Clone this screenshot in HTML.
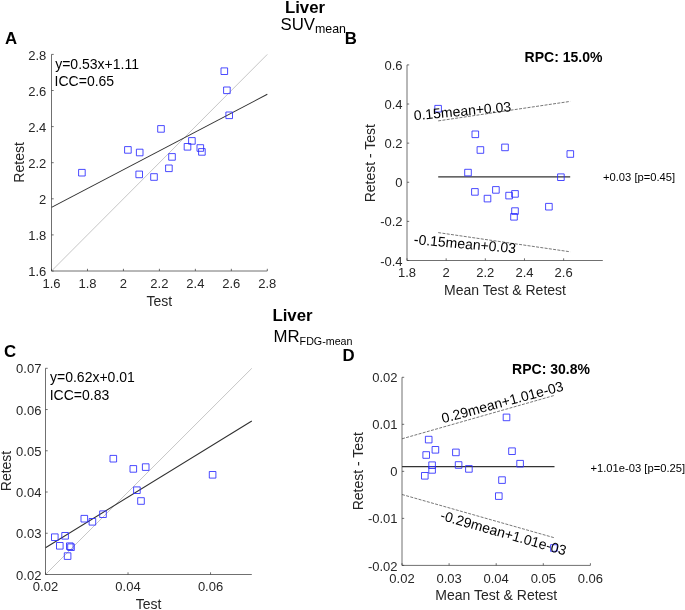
<!DOCTYPE html>
<html><head><meta charset="utf-8"><style>
html,body{margin:0;padding:0;background:#fff;}
body{width:685px;height:610px;overflow:hidden;}
#w{width:685px;height:610px;}
svg{display:block;will-change:transform;font-family:"Liberation Sans",sans-serif;}
</style></head><body><div id="w">
<svg width="685" height="610" viewBox="0 0 685 610">
<rect width="685" height="610" fill="#fff"/>
<line x1="51.5" y1="271.0" x2="267.3" y2="54.4" stroke="#b8b8b8" stroke-width="0.8"/>
<line x1="51.5" y1="207.4" x2="267.3" y2="94.3" stroke="#303030" stroke-width="1.05"/>
<path d="M51.5 54.4V271.0H267.3" fill="none" stroke="#404040" stroke-width="0.75"/>
<path d="M51.50 271.0v-2.2" stroke="#404040" stroke-width="0.75"/>
<text x="51.5" y="288.0" text-anchor="middle" font-size="13" fill="#262626">1.6</text>
<path d="M87.47 271.0v-2.2" stroke="#404040" stroke-width="0.75"/>
<text x="87.46666666666667" y="288.0" text-anchor="middle" font-size="13" fill="#262626">1.8</text>
<path d="M123.43 271.0v-2.2" stroke="#404040" stroke-width="0.75"/>
<text x="123.43333333333332" y="288.0" text-anchor="middle" font-size="13" fill="#262626">2</text>
<path d="M159.40 271.0v-2.2" stroke="#404040" stroke-width="0.75"/>
<text x="159.40000000000003" y="288.0" text-anchor="middle" font-size="13" fill="#262626">2.2</text>
<path d="M195.37 271.0v-2.2" stroke="#404040" stroke-width="0.75"/>
<text x="195.36666666666665" y="288.0" text-anchor="middle" font-size="13" fill="#262626">2.4</text>
<path d="M231.33 271.0v-2.2" stroke="#404040" stroke-width="0.75"/>
<text x="231.33333333333334" y="288.0" text-anchor="middle" font-size="13" fill="#262626">2.6</text>
<path d="M267.30 271.0v-2.2" stroke="#404040" stroke-width="0.75"/>
<text x="267.29999999999995" y="288.0" text-anchor="middle" font-size="13" fill="#262626">2.8</text>
<path d="M51.5 271.00h2.2" stroke="#404040" stroke-width="0.75"/>
<text x="46.3" y="276.10" text-anchor="end" font-size="13" fill="#262626">1.6</text>
<path d="M51.5 234.90h2.2" stroke="#404040" stroke-width="0.75"/>
<text x="46.3" y="240.00" text-anchor="end" font-size="13" fill="#262626">1.8</text>
<path d="M51.5 198.80h2.2" stroke="#404040" stroke-width="0.75"/>
<text x="46.3" y="203.90" text-anchor="end" font-size="13" fill="#262626">2</text>
<path d="M51.5 162.70h2.2" stroke="#404040" stroke-width="0.75"/>
<text x="46.3" y="167.80" text-anchor="end" font-size="13" fill="#262626">2.2</text>
<path d="M51.5 126.60h2.2" stroke="#404040" stroke-width="0.75"/>
<text x="46.3" y="131.70" text-anchor="end" font-size="13" fill="#262626">2.4</text>
<path d="M51.5 90.50h2.2" stroke="#404040" stroke-width="0.75"/>
<text x="46.3" y="95.60" text-anchor="end" font-size="13" fill="#262626">2.6</text>
<path d="M51.5 54.40h2.2" stroke="#404040" stroke-width="0.75"/>
<text x="46.3" y="59.50" text-anchor="end" font-size="13" fill="#262626">2.8</text>
<path d="M78.60 169.40h6.6v6.6h-6.6zM124.60 146.60h6.6v6.6h-6.6zM136.40 149.20h6.6v6.6h-6.6zM157.70 125.60h6.6v6.6h-6.6zM135.90 171.10h6.6v6.6h-6.6zM150.70 173.70h6.6v6.6h-6.6zM165.60 165.00h6.6v6.6h-6.6zM168.70 153.60h6.6v6.6h-6.6zM221.00 67.90h6.6v6.6h-6.6zM223.60 87.00h6.6v6.6h-6.6zM225.90 112.00h6.6v6.6h-6.6zM188.60 137.60h6.6v6.6h-6.6zM184.20 143.50h6.6v6.6h-6.6zM197.00 144.70h6.6v6.6h-6.6zM198.60 148.60h6.6v6.6h-6.6z" fill="none" stroke="#2a2aff" stroke-width="0.85"/>
<text x="55.2" y="68.9" font-size="14" fill="#000" >y=0.53x+1.11</text>
<text x="54.6" y="86.4" font-size="14" fill="#000" >ICC=0.65</text>
<text x="159.4" y="305.8" font-size="14" text-anchor="middle" fill="#262626" >Test</text>
<text transform="translate(23.6 162.4) rotate(-90)" text-anchor="middle" font-size="14" fill="#262626">Retest</text>
<text x="5" y="44" font-size="16.8" font-weight="bold" fill="#000" >A</text>
<line x1="438.2" y1="120.9" x2="570.2" y2="101.4" stroke="#4a4a4a" stroke-width="0.75" stroke-dasharray="3 1.3"/>
<line x1="438.2" y1="232.6" x2="570.2" y2="251.8" stroke="#4a4a4a" stroke-width="0.75" stroke-dasharray="3 1.3"/>
<line x1="438.2" y1="176.8" x2="570.2" y2="176.8" stroke="#333" stroke-width="1.3"/>
<path d="M407.0 64.9V260.5H602.8" fill="none" stroke="#404040" stroke-width="0.75"/>
<path d="M407.00 260.5v-2.2" stroke="#404040" stroke-width="0.75"/>
<text x="407.0" y="277.2" text-anchor="middle" font-size="13" fill="#262626">1.8</text>
<path d="M446.16 260.5v-2.2" stroke="#404040" stroke-width="0.75"/>
<text x="446.15999999999997" y="277.2" text-anchor="middle" font-size="13" fill="#262626">2</text>
<path d="M485.32 260.5v-2.2" stroke="#404040" stroke-width="0.75"/>
<text x="485.32" y="277.2" text-anchor="middle" font-size="13" fill="#262626">2.2</text>
<path d="M524.48 260.5v-2.2" stroke="#404040" stroke-width="0.75"/>
<text x="524.4799999999999" y="277.2" text-anchor="middle" font-size="13" fill="#262626">2.4</text>
<path d="M563.64 260.5v-2.2" stroke="#404040" stroke-width="0.75"/>
<text x="563.64" y="277.2" text-anchor="middle" font-size="13" fill="#262626">2.6</text>
<path d="M407.0 260.50h2.2" stroke="#404040" stroke-width="0.75"/>
<text x="402.6" y="265.60" text-anchor="end" font-size="13" fill="#262626">-0.4</text>
<path d="M407.0 221.38h2.2" stroke="#404040" stroke-width="0.75"/>
<text x="402.6" y="226.48" text-anchor="end" font-size="13" fill="#262626">-0.2</text>
<path d="M407.0 182.26h2.2" stroke="#404040" stroke-width="0.75"/>
<text x="402.6" y="187.36" text-anchor="end" font-size="13" fill="#262626">0</text>
<path d="M407.0 143.14h2.2" stroke="#404040" stroke-width="0.75"/>
<text x="402.6" y="148.24" text-anchor="end" font-size="13" fill="#262626">0.2</text>
<path d="M407.0 104.02h2.2" stroke="#404040" stroke-width="0.75"/>
<text x="402.6" y="109.12" text-anchor="end" font-size="13" fill="#262626">0.4</text>
<path d="M407.0 64.90h2.2" stroke="#404040" stroke-width="0.75"/>
<text x="402.6" y="70.00" text-anchor="end" font-size="13" fill="#262626">0.6</text>
<path d="M434.80 105.40h6.6v6.6h-6.6zM472.00 131.00h6.6v6.6h-6.6zM477.10 146.70h6.6v6.6h-6.6zM501.70 144.10h6.6v6.6h-6.6zM464.70 169.30h6.6v6.6h-6.6zM471.60 188.60h6.6v6.6h-6.6zM484.20 195.30h6.6v6.6h-6.6zM492.60 186.60h6.6v6.6h-6.6zM505.80 192.30h6.6v6.6h-6.6zM511.70 190.60h6.6v6.6h-6.6zM511.70 207.80h6.6v6.6h-6.6zM510.70 213.50h6.6v6.6h-6.6zM545.60 203.40h6.6v6.6h-6.6zM567.00 150.70h6.6v6.6h-6.6zM557.60 173.90h6.6v6.6h-6.6z" fill="none" stroke="#2a2aff" stroke-width="0.85"/>
<text x="505" y="295.2" font-size="14" text-anchor="middle" fill="#262626" >Mean Test &amp; Retest</text>
<text transform="translate(375.1 163.2) rotate(-90)" text-anchor="middle" font-size="14" fill="#262626">Retest - Test</text>
<text transform="translate(414.2 120.3) rotate(-5.3)" font-size="14" fill="#000">0.15mean+0.03</text>
<text transform="translate(413.5 244.0) rotate(5.2)" font-size="14" fill="#000">-0.15mean+0.03</text>
<text x="603" y="181.4" font-size="11.2" fill="#000" >+0.03 [p=0.45]</text>
<text x="563.5" y="61.5" font-size="14" font-weight="bold" text-anchor="middle" fill="#000" >RPC: 15.0%</text>
<text x="344.8" y="44" font-size="16.8" font-weight="bold" fill="#000" >B</text>
<text x="305" y="12.8" font-size="16.8" font-weight="bold" text-anchor="middle" fill="#000" >Liver</text>
<text x="280.5" y="29.6" font-size="16.8" fill="#000">SUV<tspan font-size="12.4" dy="3.7">mean</tspan></text>
<text x="292.5" y="321.2" font-size="16.8" font-weight="bold" text-anchor="middle" fill="#000" >Liver</text>
<text x="273.5" y="341.8" font-size="16.8" fill="#000">MR<tspan font-size="10.7" dy="2.9">FDG-mean</tspan></text>
<line x1="45.5" y1="574.5" x2="251.8" y2="368.3" stroke="#b8b8b8" stroke-width="0.8"/>
<line x1="45.5" y1="547.8" x2="251.8" y2="421" stroke="#303030" stroke-width="1.05"/>
<path d="M45.5 368.3V574.5H251.8" fill="none" stroke="#404040" stroke-width="0.75"/>
<path d="M45.50 574.5v-2.2" stroke="#404040" stroke-width="0.75"/>
<text x="45.5" y="591.4" text-anchor="middle" font-size="13" fill="#262626">0.02</text>
<path d="M128.02 574.5v-2.2" stroke="#404040" stroke-width="0.75"/>
<text x="128.01999999999998" y="591.4" text-anchor="middle" font-size="13" fill="#262626">0.04</text>
<path d="M210.54 574.5v-2.2" stroke="#404040" stroke-width="0.75"/>
<text x="210.53999999999996" y="591.4" text-anchor="middle" font-size="13" fill="#262626">0.06</text>
<path d="M45.5 574.50h2.2" stroke="#404040" stroke-width="0.75"/>
<text x="41.4" y="579.60" text-anchor="end" font-size="13" fill="#262626">0.02</text>
<path d="M45.5 533.26h2.2" stroke="#404040" stroke-width="0.75"/>
<text x="41.4" y="538.36" text-anchor="end" font-size="13" fill="#262626">0.03</text>
<path d="M45.5 492.02h2.2" stroke="#404040" stroke-width="0.75"/>
<text x="41.4" y="497.12" text-anchor="end" font-size="13" fill="#262626">0.04</text>
<path d="M45.5 450.78h2.2" stroke="#404040" stroke-width="0.75"/>
<text x="41.4" y="455.88" text-anchor="end" font-size="13" fill="#262626">0.05</text>
<path d="M45.5 409.54h2.2" stroke="#404040" stroke-width="0.75"/>
<text x="41.4" y="414.64" text-anchor="end" font-size="13" fill="#262626">0.06</text>
<path d="M45.5 368.30h2.2" stroke="#404040" stroke-width="0.75"/>
<text x="41.4" y="373.40" text-anchor="end" font-size="13" fill="#262626">0.07</text>
<path d="M110.00 455.40h6.6v6.6h-6.6zM130.00 465.60h6.6v6.6h-6.6zM142.40 463.80h6.6v6.6h-6.6zM133.60 486.90h6.6v6.6h-6.6zM137.70 497.70h6.6v6.6h-6.6zM99.70 510.90h6.6v6.6h-6.6zM81.00 515.40h6.6v6.6h-6.6zM89.10 518.50h6.6v6.6h-6.6zM51.50 533.90h6.6v6.6h-6.6zM61.80 532.50h6.6v6.6h-6.6zM56.50 542.50h6.6v6.6h-6.6zM66.50 542.90h6.6v6.6h-6.6zM67.70 543.90h6.6v6.6h-6.6zM64.30 552.80h6.6v6.6h-6.6zM209.30 471.50h6.6v6.6h-6.6z" fill="none" stroke="#2a2aff" stroke-width="0.85"/>
<text x="50.0" y="382.2" font-size="14" fill="#000" >y=0.62x+0.01</text>
<text x="49.7" y="400" font-size="14" fill="#000" >ICC=0.83</text>
<text x="148.6" y="609.3" font-size="14" text-anchor="middle" fill="#262626" >Test</text>
<text transform="translate(11.1 471) rotate(-90)" text-anchor="middle" font-size="14" fill="#262626">Retest</text>
<text x="4" y="357" font-size="16.8" font-weight="bold" fill="#000" >C</text>
<line x1="402.0" y1="494.5" x2="554.5" y2="537.8" stroke="#4a4a4a" stroke-width="0.75" stroke-dasharray="3 1.3"/>
<line x1="402.0" y1="438.8" x2="554.5" y2="395.4" stroke="#4a4a4a" stroke-width="0.75" stroke-dasharray="3 1.3"/>
<line x1="402.0" y1="466.6" x2="554.5" y2="466.6" stroke="#333" stroke-width="1.3"/>
<path d="M402.0 377.3V565.4H590.4" fill="none" stroke="#404040" stroke-width="0.75"/>
<path d="M402.00 565.4v-2.2" stroke="#404040" stroke-width="0.75"/>
<text x="402.0" y="582.7" text-anchor="middle" font-size="13" fill="#262626">0.02</text>
<path d="M449.10 565.4v-2.2" stroke="#404040" stroke-width="0.75"/>
<text x="449.09999999999997" y="582.7" text-anchor="middle" font-size="13" fill="#262626">0.03</text>
<path d="M496.20 565.4v-2.2" stroke="#404040" stroke-width="0.75"/>
<text x="496.2" y="582.7" text-anchor="middle" font-size="13" fill="#262626">0.04</text>
<path d="M543.30 565.4v-2.2" stroke="#404040" stroke-width="0.75"/>
<text x="543.3" y="582.7" text-anchor="middle" font-size="13" fill="#262626">0.05</text>
<path d="M590.40 565.4v-2.2" stroke="#404040" stroke-width="0.75"/>
<text x="590.4" y="582.7" text-anchor="middle" font-size="13" fill="#262626">0.06</text>
<path d="M402.0 565.40h2.2" stroke="#404040" stroke-width="0.75"/>
<text x="397.6" y="570.50" text-anchor="end" font-size="13" fill="#262626">-0.02</text>
<path d="M402.0 518.38h2.2" stroke="#404040" stroke-width="0.75"/>
<text x="397.6" y="523.48" text-anchor="end" font-size="13" fill="#262626">-0.01</text>
<path d="M402.0 471.35h2.2" stroke="#404040" stroke-width="0.75"/>
<text x="397.6" y="476.45" text-anchor="end" font-size="13" fill="#262626">0</text>
<path d="M402.0 424.32h2.2" stroke="#404040" stroke-width="0.75"/>
<text x="397.6" y="429.43" text-anchor="end" font-size="13" fill="#262626">0.01</text>
<path d="M402.0 377.30h2.2" stroke="#404040" stroke-width="0.75"/>
<text x="397.6" y="382.40" text-anchor="end" font-size="13" fill="#262626">0.02</text>
<path d="M503.20 414.10h6.6v6.6h-6.6zM425.40 436.30h6.6v6.6h-6.6zM432.10 446.50h6.6v6.6h-6.6zM422.90 451.70h6.6v6.6h-6.6zM452.60 449.10h6.6v6.6h-6.6zM508.70 447.90h6.6v6.6h-6.6zM428.80 461.90h6.6v6.6h-6.6zM428.80 466.60h6.6v6.6h-6.6zM455.30 461.70h6.6v6.6h-6.6zM465.60 465.60h6.6v6.6h-6.6zM421.50 472.50h6.6v6.6h-6.6zM498.70 476.80h6.6v6.6h-6.6zM495.50 492.80h6.6v6.6h-6.6zM516.80 460.40h6.6v6.6h-6.6zM550.60 544.70h6.6v6.6h-6.6z" fill="none" stroke="#2a2aff" stroke-width="0.85"/>
<text x="496.3" y="600.4" font-size="14" text-anchor="middle" fill="#262626" >Mean Test &amp; Retest</text>
<text transform="translate(363 471.2) rotate(-90)" text-anchor="middle" font-size="14" fill="#262626">Retest - Test</text>
<text transform="translate(443 423.3) rotate(-15.2)" font-size="14" fill="#000">0.29mean+1.01e-03</text>
<text transform="translate(439.4 519.5) rotate(16)" font-size="14" fill="#000">-0.29mean+1.01e-03</text>
<text x="590.5" y="471.6" font-size="11.2" fill="#000" >+1.01e-03 [p=0.25]</text>
<text x="551" y="374.4" font-size="14" font-weight="bold" text-anchor="middle" fill="#000" >RPC: 30.8%</text>
<text x="342.6" y="360.8" font-size="16.8" font-weight="bold" fill="#000" >D</text>
</svg></div>
</body></html>
